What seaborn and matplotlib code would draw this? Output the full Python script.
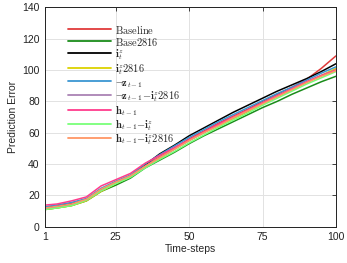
import numpy as np
import pandas as pd
import matplotlib
matplotlib.use('Agg')
import matplotlib.pyplot as plt
import seaborn as sns

# --- DATA ---
steps = [1, 5, 10, 15, 20, 25, 30, 35, 40, 45, 50, 55, 60, 65, 70, 75, 80, 85, 90, 95, 100]

baseline = [12.5, 13.5, 15, 17.5, 24, 28.5, 32.5, 39, 44.5, 50, 56, 61, 66, 70.5, 75, 80, 84.5, 89, 94, 101, 109]
base2816 = [11, 12, 13.5, 16.5, 22.5, 26.5, 31, 37.5, 42.5, 47.5, 53, 58, 62.5, 67, 71.5, 76, 80, 84.5, 88.5, 92.5, 96]
iz = [12, 13, 14.5, 17, 23, 28, 32.5, 39.5, 46.5, 52, 58, 63, 68, 73, 77.5, 82, 86.5, 90.5, 94.5, 99, 104]
iz2816 = [11, 12, 13.5, 16.5, 22.5, 27.5, 32, 38.5, 44, 49.5, 55, 60, 64.5, 69, 73.5, 78.5, 83, 87.5, 92, 96.5, 101]
nz = [12.8, 13.8, 15.5, 18, 24.5, 29, 33, 40, 46, 51.5, 57, 62, 67, 71.5, 76, 80.5, 85, 89, 93.5, 98, 102]
nz_iz2816 = [11.5, 12.5, 14, 17, 23, 28, 32, 38.5, 44, 49.5, 55, 60, 65, 69.5, 74, 79, 83.5, 88, 92.5, 96.5, 100]
h = [13.8, 14.5, 16.5, 19, 26, 30, 34, 40.5, 45.5, 50.5, 55.5, 60.5, 65.5, 70, 74.5, 79, 83.5, 88, 92.5, 96.5, 100]
h_iz = [11, 12, 13.5, 17, 23, 27.5, 31.5, 37.5, 43, 48, 53.5, 58.5, 63.5, 68, 72.5, 77.5, 82, 86.5, 91, 95, 99]
h_iz2816 = [12, 13, 14.5, 17.5, 24, 28.5, 32.5, 38.5, 44, 49.5, 55, 60, 64.5, 69.5, 74, 78.5, 83, 87.5, 92, 96, 99.5]

labels = [r"$\mathrm{Baseline}$", r"$\mathrm{Base2816}$",
          r"$\mathbf{i}_t^z$", r"$\mathbf{i}_t^z\mathrm{2816}$",
          r"$\neg\mathbf{z}_{t-1}$", r"$\neg\mathbf{z}_{t-1}\mathrm{-}\mathbf{i}_t^z\mathrm{2816}$",
          r"$\mathbf{h}_{t-1}$", r"$\mathbf{h}_{t-1}\mathrm{-}\mathbf{i}_t^z$",
          r"$\mathbf{h}_{t-1}\mathrm{-}\mathbf{i}_t^z\mathrm{2816}$"]
colors = ["#e03a3a", "#1a8c1a", "#000000", "#dcd200", "#3c96d2",
          "#aa82b4", "#ff3c8c", "#78ff78", "#ff9664"]

series = [baseline, base2816, iz, iz2816, nz, nz_iz2816, h, h_iz, h_iz2816]
df = pd.concat([pd.DataFrame({"step": steps, "err": s, "model": lab})
                for s, lab in zip(series, labels)], ignore_index=True)

sns.set_style("white")
plt.rcParams['mathtext.fontset'] = 'cm'
plt.rcParams['font.family'] = ['Liberation Sans', 'DejaVu Sans']

fig = plt.figure(figsize=(3.47, 2.63), dpi=100)
ax = fig.add_axes([0.1305, 0.138, 0.8375, 0.834])

sns.lineplot(data=df, x="step", y="err", hue="model", hue_order=labels,
             palette=colors, linewidth=1.1, ax=ax)

ax.set_xlim(1, 100)
ax.set_ylim(0, 140)
ax.set_xticks([1, 25, 50, 75, 100])
ax.set_yticks(np.arange(0, 141, 20))
ax.grid(True, color="#e2e2e2", linewidth=0.7)
ax.tick_params(direction="in", length=3, width=0.6, labelsize=7.5, colors="#222222",
               top=True, right=True, pad=4)
for sp in ax.spines.values():
    sp.set_color("#222222")
    sp.set_linewidth(0.7)
ax.set_xlabel("Time-steps", fontsize=7.5, labelpad=1)
ax.set_ylabel("Prediction Error", fontsize=7.5, labelpad=3)

# fixed row height via handleheight so math labels are evenly spaced
leg = ax.legend(loc="upper left", frameon=False, fontsize=7.5, handlelength=4.1,
                handleheight=1.22, handletextpad=0.4, labelspacing=0.0,
                borderaxespad=0.0, bbox_to_anchor=(0.065, 0.945))
for line in leg.get_lines():
    line.set_linewidth(1.3)

fig.savefig("out.png", dpi=100)
plt.close(fig)
